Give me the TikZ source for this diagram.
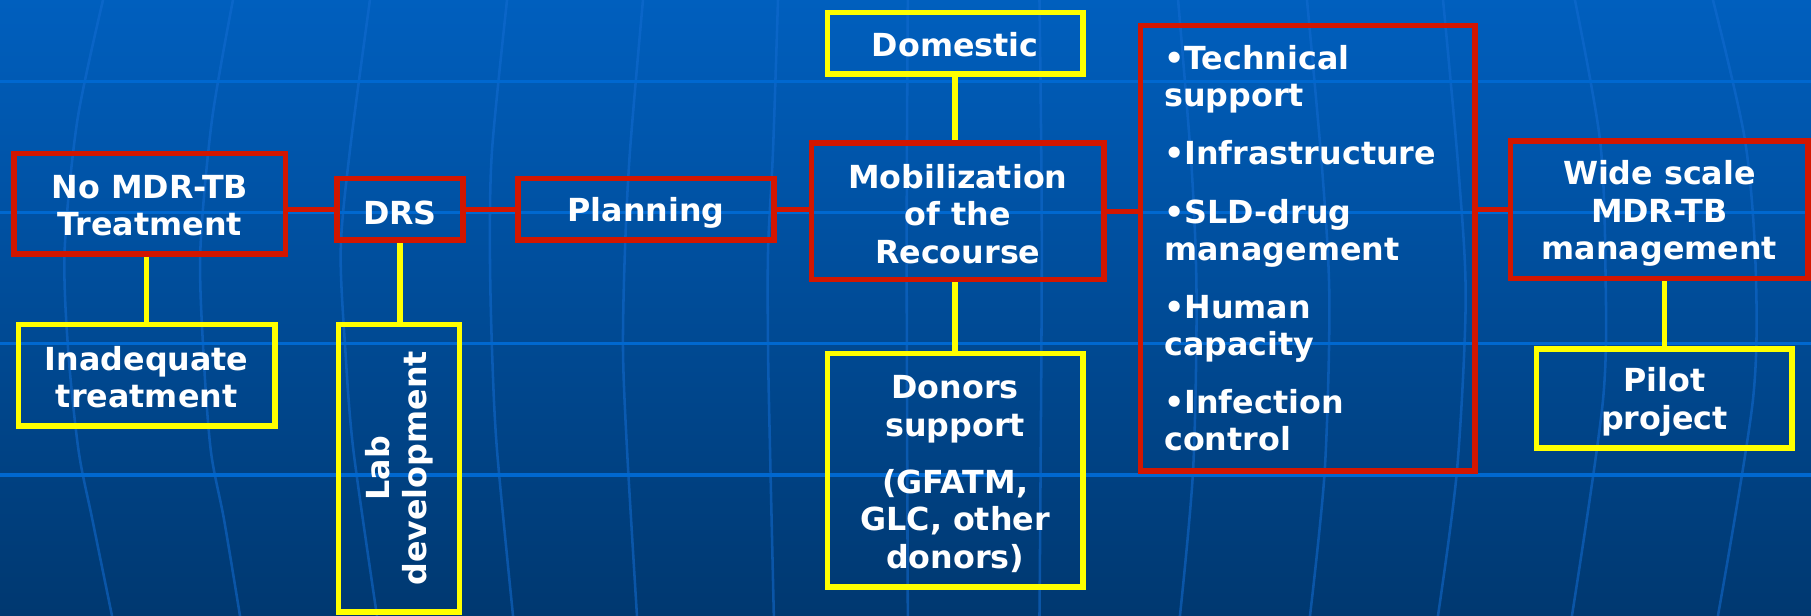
\documentclass[tikz,border=0pt]{standalone}
\usepackage{fontspec}
\setmainfont{DejaVu Sans}
\definecolor{bgtop}{RGB}{0,95,190}
\definecolor{bgbot}{RGB}{0,56,112}
\definecolor{gridl}{RGB}{0,104,208}
\definecolor{merid}{RGB}{20,108,210}
\definecolor{boxred}{RGB}{210,22,0}
\definecolor{boxyel}{RGB}{255,255,0}
\newcommand\tpad[1]{\rule{0pt}{#1pt}}
\begin{document}
\begin{tikzpicture}[x=1pt,y=-1pt,
  lbl/.style={text=white,font=\bfseries\fontsize{27.5}{32.5}\selectfont,align=center,inner sep=0pt},
  redbox/.style={lbl,draw=boxred,line width=4.8pt,rectangle},
  yelbox/.style={lbl,draw=boxyel,line width=4.8pt,rectangle},
  redline/.style={draw=boxred,line width=4.8pt},
  yelline/.style={draw=boxyel,line width=4.8pt},
  hline/.style={draw=gridl,line width=2.8pt},
  mline/.style={draw=merid,line width=2.2pt,opacity=0.55}]

\useasboundingbox (0,0) rectangle (1568,533.3);
\shade[top color=bgtop,bottom color=bgbot] (0,0) rectangle (1568,533.3);

% globe meridians
\draw[mline] plot[smooth] coordinates {(89.2,0) (67,104) (56,216) (59,303) (68,390) (80,450) (97,533.3)};
\draw[mline] plot[smooth] coordinates {(201.7,0) (183.5,104) (173.5,216) (176,303) (182.5,390) (194,450) (207.8,533.3)};
\draw[mline] plot[smooth] coordinates {(320.3,0) (303,130) (295,216) (299,303) (306,390) (326.4,533.3)};
\draw[mline] plot[smooth] coordinates {(439,0) (426,130) (424.2,216.5) (426,303) (430.3,389.6) (444.2,533.3)};
\draw[mline] plot[smooth] coordinates {(556.7,0) (545.5,130) (541.1,216.5) (539.4,303) (542.9,389.6) (551.5,533.3)};
\draw[mline] plot[smooth] coordinates {(673.6,0) (669.3,130) (665,216.5) (665,303) (666.7,389.6) (670,533.3)};
\draw[mline] plot[smooth] coordinates {(786,0) (785,216) (786,533.3)};
\draw[mline] plot[smooth] coordinates {(900,0) (902,216) (900,533.3)};
\draw[mline] plot[smooth] coordinates {(1020,0) (1032,150) (1036,260) (1033,407) (1021.6,533.3)};
\draw[mline] plot[smooth] coordinates {(1131.6,0) (1145,150) (1151,260) (1147,407) (1134.2,533.3)};
\draw[mline] plot[smooth] coordinates {(1249.4,0) (1263,150) (1269,260) (1261.5,407) (1245,533.3)};
\draw[mline] plot[smooth] coordinates {(1363.6,0) (1385.3,121.2) (1390,230) (1387.9,346.3) (1361,533.3)};
\draw[mline] plot[smooth] coordinates {(1483.1,0) (1510.8,121.2) (1520,230) (1517.7,346.3) (1487.4,533.3)};

% horizontal grid lines
\foreach \yy in {70.7,184,297.2,411.3} \draw[hline] (0,\yy) -- (1568,\yy);

% boxes
\node[redbox,minimum width=234.7pt,minimum height=87pt] (nomdr) at (129.7,176.5) {\tpad{23}No MDR-TB\\Treatment};
\node[redbox,minimum width=109.4pt,minimum height=53.5pt] (drs) at (346.3,181.25) {\tpad{27}DRS};
\node[redbox,minimum width=221.5pt,minimum height=53.5pt] (plan) at (559.3,181.25) {\tpad{27}Planning};
\node[redbox,minimum width=253.5pt,minimum height=118pt] (mob) at (829.3,183) {\tpad{25}Mobilization\\of the\\Recourse};
\node[yelbox,minimum width=221pt,minimum height=53pt] (dom) at (827,37.5) {\tpad{23}Domestic};
\node[yelbox,minimum width=221pt,minimum height=202pt] (don) at (827,407) {\tpad{27}Donors\\support\\[17pt](GFATM,\\GLC, other\\donors)};
\node[redbox,minimum height=386pt,text width=248.5pt,inner xsep=20.5pt,align=left,
      font=\bfseries\fontsize{27.5}{31.7}\selectfont] (bul) at (1132.25,215)
  {•Technical\\support\\[19pt]•Infrastructure\\[19pt]•SLD-drug\\management\\[19pt]•Human\\capacity\\[19pt]•Infection\\control};
\node[redbox,minimum width=257.5pt,minimum height=119pt] (wide) at (1436.75,181.5) {\tpad{28}Wide scale\\MDR-TB\\management};
\node[yelbox,minimum width=221.5pt,minimum height=86pt] (pilot) at (1441,345) {\tpad{27}Pilot\\project};
\node[yelbox,minimum width=221.8pt,minimum height=88pt] (inad) at (127,325) {\tpad{24}Inadequate\\treatment};
\node[yelbox,rotate=90,minimum width=249pt,minimum height=105pt] (lab) at (345.5,405.5) {Lab\\development};

% connectors
\draw[redline] (nomdr.east |- drs.west) -- (drs.west);
\draw[redline] (drs.east) -- (plan.west);
\draw[redline] (plan.east) -- (plan.east -| mob.west);
\draw[redline] (mob.east) -- (mob.east -| bul.west);
\draw[redline] (wide.west -| bul.east) -- (wide.west);
\draw[yelline] (nomdr.south -| inad.north) -- (inad.north);
\draw[yelline] (drs.south) -- (drs.south |- lab.east);
\draw[yelline] (dom.south) -- (dom.south |- mob.north);
\draw[yelline] (mob.south -| don.north) -- (don.north);
\draw[yelline] (wide.south -| pilot.north) -- (pilot.north);
\end{tikzpicture}
\end{document}
